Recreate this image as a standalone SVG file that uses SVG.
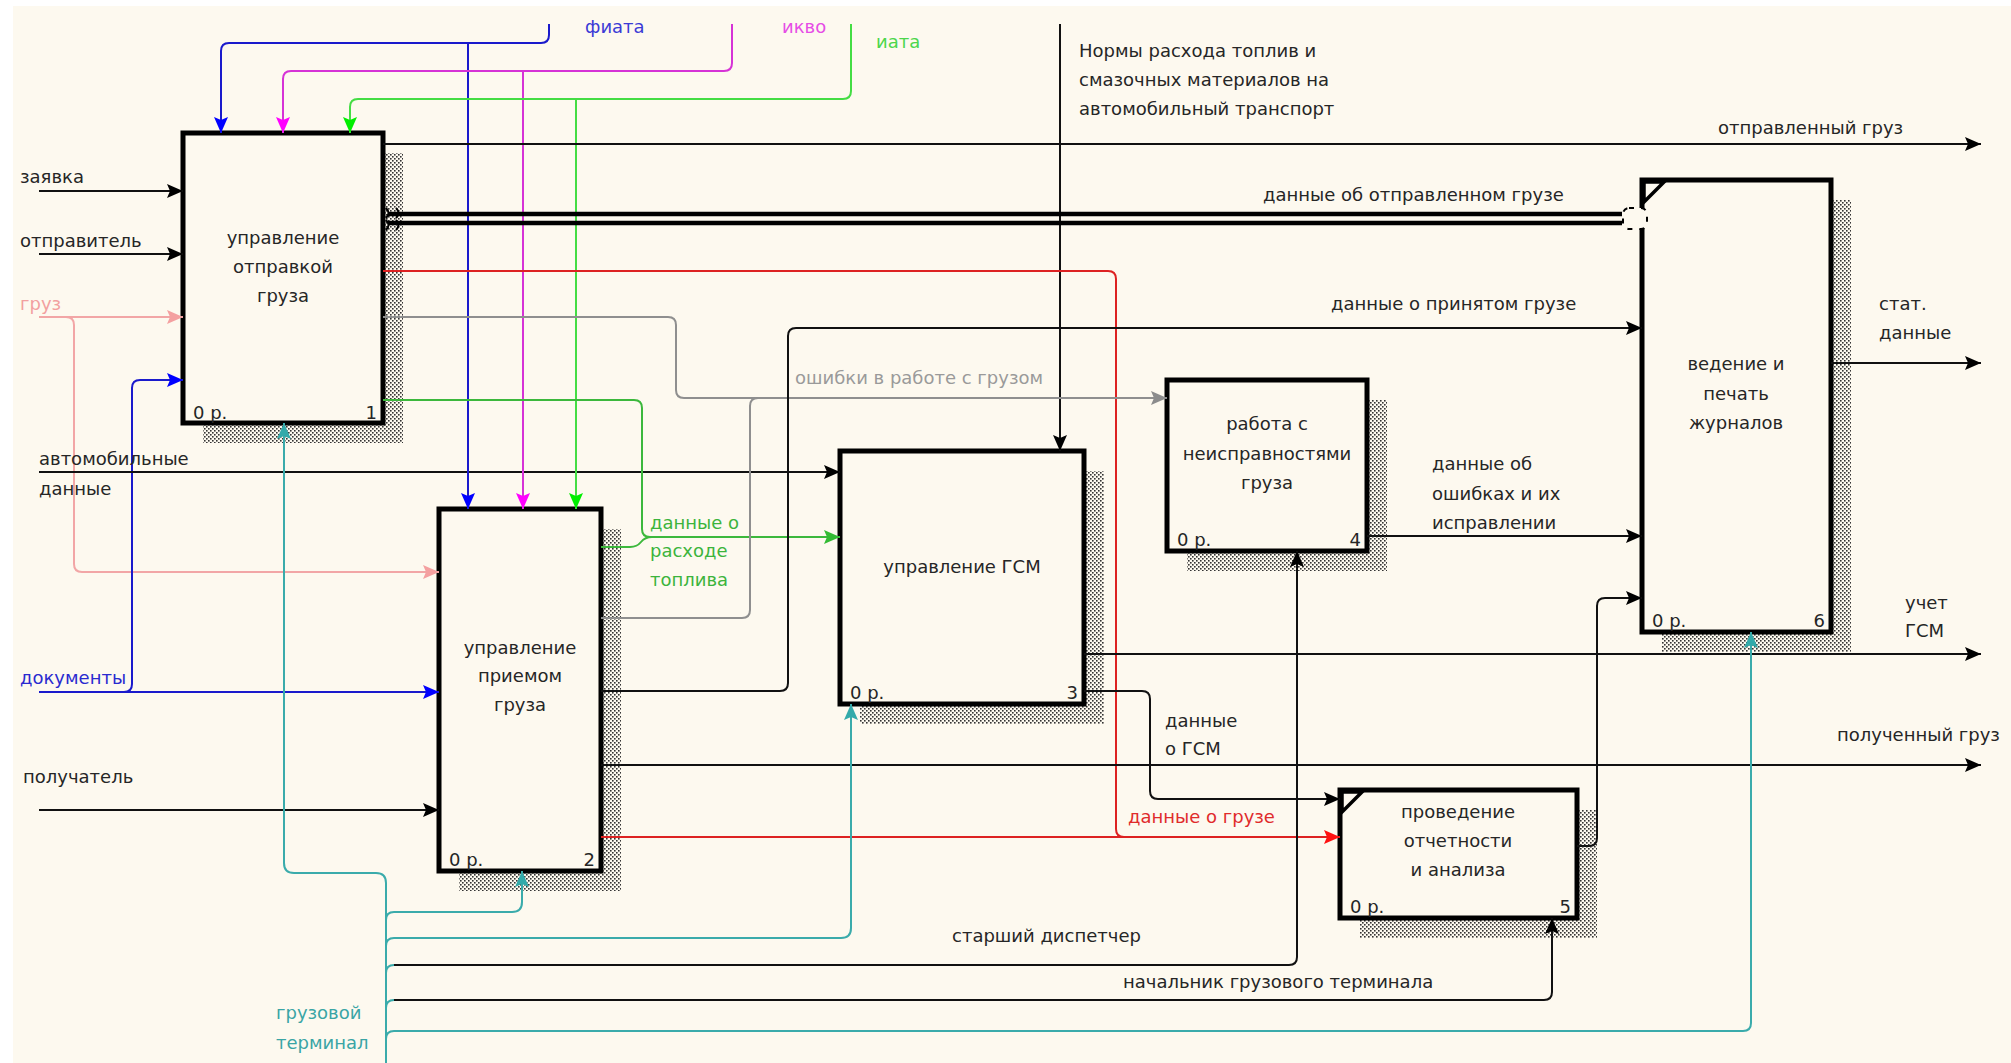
<svg xmlns="http://www.w3.org/2000/svg" width="2011" height="1063" viewBox="0 0 2011 1063">
<style>
.t{font-family:"DejaVu Sans",sans-serif;font-size:18px;fill:#262626}
.c{text-anchor:middle}
.e{text-anchor:end}
.box{fill:#fdf9ef;stroke:#000;stroke-width:5}
.sh{fill:url(#hatch)}
.ln{fill:none;stroke-width:2}
.k{stroke:#111}
.b{stroke:#1a1acc}
.m{stroke:#d633d6}
.g{stroke:#44dd44}
.p{stroke:#f2a6a6}
.r{stroke:#dd2222}
.y{stroke:#8f8f8f}
.g2{stroke:#3cb83c}
.tl{stroke:#3aabab}
</style>
<defs>
<pattern id="hatch" width="4" height="4" patternUnits="userSpaceOnUse"><rect width="4" height="4" fill="#fdf9ef"/><rect width="1.6" height="1.6" fill="#333"/><rect x="2" y="2" width="1.6" height="1.6" fill="#333"/></pattern>
<marker id="mk" markerUnits="userSpaceOnUse" markerWidth="16" markerHeight="14" refX="16" refY="7" orient="auto"><path d="M0,0 L16,7 L0,14 L3,7 z" fill="#000"/></marker>
<marker id="mb" markerUnits="userSpaceOnUse" markerWidth="16" markerHeight="14" refX="16" refY="7" orient="auto"><path d="M0,0 L16,7 L0,14 L3,7 z" fill="#0000ff"/></marker>
<marker id="mm" markerUnits="userSpaceOnUse" markerWidth="16" markerHeight="14" refX="16" refY="7" orient="auto"><path d="M0,0 L16,7 L0,14 L3,7 z" fill="#ff00ff"/></marker>
<marker id="mg" markerUnits="userSpaceOnUse" markerWidth="16" markerHeight="14" refX="16" refY="7" orient="auto"><path d="M0,0 L16,7 L0,14 L3,7 z" fill="#00ee00"/></marker>
<marker id="mp" markerUnits="userSpaceOnUse" markerWidth="16" markerHeight="14" refX="16" refY="7" orient="auto"><path d="M0,0 L16,7 L0,14 L3,7 z" fill="#f4a0a0"/></marker>
<marker id="mr" markerUnits="userSpaceOnUse" markerWidth="16" markerHeight="14" refX="16" refY="7" orient="auto"><path d="M0,0 L16,7 L0,14 L3,7 z" fill="#ff1111"/></marker>
<marker id="my" markerUnits="userSpaceOnUse" markerWidth="16" markerHeight="14" refX="16" refY="7" orient="auto"><path d="M0,0 L16,7 L0,14 L3,7 z" fill="#8c8c8c"/></marker>
<marker id="mg2" markerUnits="userSpaceOnUse" markerWidth="16" markerHeight="14" refX="16" refY="7" orient="auto"><path d="M0,0 L16,7 L0,14 L3,7 z" fill="#33bb33"/></marker>
<marker id="mt" markerUnits="userSpaceOnUse" markerWidth="16" markerHeight="14" refX="16" refY="7" orient="auto"><path d="M0,0 L16,7 L0,14 L3,7 z" fill="#33aaaa"/></marker>
</defs>
<rect width="2011" height="1063" fill="#ffffff"/>
<rect x="13" y="6" width="1998" height="1057" fill="#fdf9ef"/>

<g id="node1">
<rect class="sh" x="203" y="153" width="200" height="290"/>
<rect class="box" x="183" y="133" width="200" height="290"/>
<text class="t c" x="283" y="244">управление</text>
<text class="t c" x="283" y="273">отправкой</text>
<text class="t c" x="283" y="302">груза</text>
<text class="t" x="193" y="419">0 р.</text>
<text class="t e" x="377" y="419">1</text>
</g>
<g id="node2">
<rect class="sh" x="459" y="529" width="162" height="362"/>
<rect class="box" x="439" y="509" width="162" height="362"/>
<text class="t c" x="520" y="654">управление</text>
<text class="t c" x="520" y="682">приемом</text>
<text class="t c" x="520" y="711">груза</text>
<text class="t" x="449" y="866">0 р.</text>
<text class="t e" x="595" y="866">2</text>
</g>
<g id="node3">
<rect class="sh" x="860" y="471" width="244" height="253"/>
<rect class="box" x="840" y="451" width="244" height="253"/>
<text class="t c" x="962" y="573">управление ГСМ</text>
<text class="t" x="850" y="699">0 р.</text>
<text class="t e" x="1078" y="699">3</text>
</g>
<g id="node4">
<rect class="sh" x="1187" y="400" width="200" height="171"/>
<rect class="box" x="1167" y="380" width="200" height="171"/>
<text class="t c" x="1267" y="430">работа с</text>
<text class="t c" x="1267" y="460">неисправностями</text>
<text class="t c" x="1267" y="489">груза</text>
<text class="t" x="1177" y="546">0 р.</text>
<text class="t e" x="1361" y="546">4</text>
</g>
<g id="node5">
<rect class="sh" x="1360" y="810" width="237" height="128"/>
<rect class="box" x="1340" y="790" width="237" height="128"/>
<polygon points="1342,792 1362,792 1342,812" fill="none" stroke="#000" stroke-width="3.5"/>
<text class="t c" x="1458" y="818">проведение</text>
<text class="t c" x="1458" y="847">отчетности</text>
<text class="t c" x="1458" y="876">и анализа</text>
<text class="t" x="1350" y="913">0 р.</text>
<text class="t e" x="1571" y="913">5</text>
</g>
<g id="node6">
<rect class="sh" x="1662" y="200" width="189" height="452"/>
<rect class="box" x="1642" y="180" width="189" height="452"/>
<polygon points="1644,182 1664,182 1644,202" fill="none" stroke="#000" stroke-width="3.5"/>
<text class="t c" x="1736" y="370">ведение и</text>
<text class="t c" x="1736" y="400">печать</text>
<text class="t c" x="1736" y="429">журналов</text>
<text class="t" x="1652" y="627">0 р.</text>
<text class="t e" x="1825" y="627">6</text>
</g>

<g id="connectors">
<path class="ln k" d="M39,191 H183" marker-end="url(#mk)"/>
<path class="ln k" d="M39,254 H183" marker-end="url(#mk)"/>
<path class="ln p" d="M39,317 H183" marker-end="url(#mp)"/>
<path class="ln p" d="M66,317 Q74,317 74,325 V564 Q74,572 82,572 H439" marker-end="url(#mp)"/>
<path class="ln b" d="M39,692 H439" marker-end="url(#mb)"/>
<path class="ln b" d="M124,692 Q132,692 132,684 V388 Q132,380 140,380 H183" marker-end="url(#mb)"/>
<path class="ln k" d="M39,472 H840" marker-end="url(#mk)"/>
<path class="ln k" d="M39,810 H439" marker-end="url(#mk)"/>
<path class="ln b" d="M549,24 V35 Q549,43 541,43 H229 Q221,43 221,51 V133" marker-end="url(#mb)"/>
<path class="ln b" d="M468,43 V509" marker-end="url(#mb)"/>
<path class="ln m" d="M732,24 V63 Q732,71 724,71 H291 Q283,71 283,79 V133" marker-end="url(#mm)"/>
<path class="ln m" d="M523,71 V509" marker-end="url(#mm)"/>
<path class="ln g" d="M851,24 V91 Q851,99 843,99 H358 Q350,99 350,107 V133" marker-end="url(#mg)"/>
<path class="ln g" d="M576,99 V509" marker-end="url(#mg)"/>
<path class="ln k" d="M1060,24 V451" marker-end="url(#mk)"/>
<path class="ln k" d="M383,144 H1981" marker-end="url(#mk)"/>
<path fill="none" stroke="#000" stroke-width="4.5" d="M388,214 H1622 M388,223 H1622"/>
<path fill="none" stroke="#000" stroke-width="2" d="M386,208 Q391,213 386,218 M386,220 Q391,225 386,230 M396,208 Q401,213 396,218 M396,220 Q401,225 396,230"/>
<rect x="1623" y="208" width="24" height="21" rx="6" fill="#fdf9ef" stroke="#000" stroke-width="2" stroke-dasharray="5,7"/>
<path class="ln r" d="M383,271 H1108 Q1116,271 1116,279 V829 Q1116,837 1124,837"/>
<path class="ln y" d="M383,317 H668 Q676,317 676,325 V390 Q676,398 684,398 H1167" marker-end="url(#my)"/>
<path class="ln g2" d="M383,400 H634 Q642,400 642,408 V529 Q642,537 650,537 H840" marker-end="url(#mg2)"/>
<path class="ln g2" d="M601,547 H630 Q637,547 641,542 Q645,537 652,537"/>
<path class="ln y" d="M601,618 H742 Q750,618 750,610 V406 Q750,398 758,398"/>
<path class="ln k" d="M601,691 H780 Q788,691 788,683 V336 Q788,328 796,328 H1642" marker-end="url(#mk)"/>
<path class="ln k" d="M601,765 H1981" marker-end="url(#mk)"/>
<path class="ln r" d="M601,837 H1340" marker-end="url(#mr)"/>
<path class="ln k" d="M1084,654 H1981" marker-end="url(#mk)"/>
<path class="ln k" d="M1084,691 H1142 Q1150,691 1150,699 V791 Q1150,799 1158,799 H1340" marker-end="url(#mk)"/>
<path class="ln k" d="M1367,536 H1642" marker-end="url(#mk)"/>
<path class="ln k" d="M1577,846 H1589 Q1597,846 1597,838 V606 Q1597,598 1605,598 H1642" marker-end="url(#mk)"/>
<path class="ln k" d="M1831,363 H1981" marker-end="url(#mk)"/>
<path class="ln tl" d="M386,1063 V883 Q386,873 376,873 H294 Q284,873 284,863 V423" marker-end="url(#mt)"/>
<path class="ln tl" d="M386,920 Q386,912 394,912 H512 Q522,912 522,902 V871" marker-end="url(#mt)"/>
<path class="ln tl" d="M386,946 Q386,938 394,938 H841 Q851,938 851,928 V704" marker-end="url(#mt)"/>
<path class="ln tl" d="M386,973 Q386,965 394,965"/>
<path class="ln k" d="M394,965 H1289 Q1297,965 1297,957 V551" marker-end="url(#mk)"/>
<path class="ln tl" d="M386,1008 Q386,1000 394,1000"/>
<path class="ln k" d="M394,1000 H1544 Q1552,1000 1552,992 V918" marker-end="url(#mk)"/>
<path class="ln tl" d="M386,1039 Q386,1031 394,1031 H1743 Q1751,1031 1751,1023 V632" marker-end="url(#mt)"/>
</g>

<g id="labels">
<text class="t" x="585" y="33" style="fill:#3b3bd6">фиата</text>
<text class="t" x="782" y="33" style="fill:#e64de6">икво</text>
<text class="t" x="876" y="48" style="fill:#4cd64c">иата</text>
<text class="t" x="1079" y="57">Нормы расхода топлив и</text>
<text class="t" x="1079" y="86">смазочных материалов на</text>
<text class="t" x="1079" y="115">автомобильный транспорт</text>
<text class="t" x="1718" y="134">отправленный груз</text>
<text class="t" x="1263" y="201">данные об отправленном грузе</text>
<text class="t" x="1331" y="310">данные о принятом грузе</text>
<text class="t" x="1879" y="310">стат.</text>
<text class="t" x="1879" y="339">данные</text>
<text class="t" x="795" y="384" style="fill:#9a9a9a">ошибки в работе с грузом</text>
<text class="t" x="1432" y="470">данные об</text>
<text class="t" x="1432" y="500">ошибках и их</text>
<text class="t" x="1432" y="529">исправлении</text>
<text class="t" x="650" y="529" style="fill:#3cb43c">данные о</text>
<text class="t" x="650" y="557" style="fill:#3cb43c">расходе</text>
<text class="t" x="650" y="586" style="fill:#3cb43c">топлива</text>
<text class="t" x="1905" y="609">учет</text>
<text class="t" x="1905" y="637">ГСМ</text>
<text class="t" x="1165" y="727">данные</text>
<text class="t" x="1165" y="755">о ГСМ</text>
<text class="t" x="1837" y="741">полученный груз</text>
<text class="t" x="1128" y="823" style="fill:#e02b2b">данные о грузе</text>
<text class="t" x="952" y="942">старший диспетчер</text>
<text class="t" x="1123" y="988">начальник грузового терминала</text>
<text class="t" x="276" y="1019" style="fill:#3aa5a5">грузовой</text>
<text class="t" x="276" y="1049" style="fill:#3aa5a5">терминал</text>
<text class="t" x="20" y="183">заявка</text>
<text class="t" x="20" y="247">отправитель</text>
<text class="t" x="20" y="310" style="fill:#f2a0a0">груз</text>
<text class="t" x="39" y="465">автомобильные</text>
<text class="t" x="39" y="495">данные</text>
<text class="t" x="20" y="684" style="fill:#2a2ad0">документы</text>
<text class="t" x="23" y="783">получатель</text>
</g>
</svg>
